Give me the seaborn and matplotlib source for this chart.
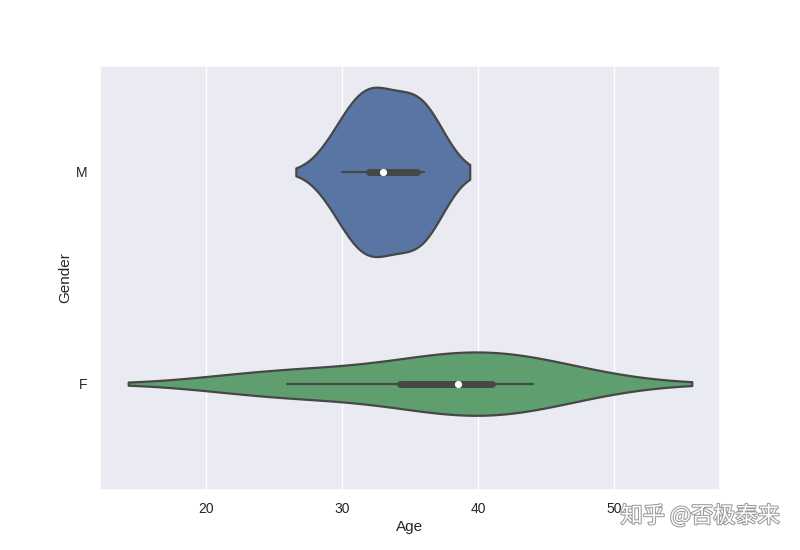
import pandas as pd
import matplotlib.pyplot as plt
import matplotlib.patheffects as pe
import seaborn as sns

# dados
male_ages = [30, 32, 32, 34, 36, 36]
female_ages = [26, 37, 40, 44]
genders = ["M", "F"]
cores = ["#4C72B0", "#55A868"]

df = pd.DataFrame({
    "Age": male_ages + female_ages,
    "Gender": ["M"] * len(male_ages) + ["F"] * len(female_ages),
})

sns.set_theme(style="darkgrid", rc={
    "xtick.labelsize": 10,
    "ytick.labelsize": 10,
    "axes.labelsize": 11,
    "xtick.major.pad": 3,
    "ytick.major.pad": 3,
    "axes.labelpad": 3,
    "text.color": "#262626",
    "axes.labelcolor": "#262626",
})
plt.rcParams["font.family"] = ["Liberation Sans", "DejaVu Sans"]

fig, ax = plt.subplots(figsize=(8, 5.5), dpi=100)
sns.violinplot(data=df, x="Age", y="Gender", order=genders, hue="Gender",
               hue_order=genders, palette=cores, legend=False, ax=ax,
               common_norm=True, linecolor="#474747", linewidth=1.6,
               inner_kws=dict(box_width=5, whis_width=1.6, marker="o"))

# marca d'água
fig.text(0.975, 0.062, "知乎 @否极泰来", ha="right", va="center", fontsize=16,
         color="white", family=["Noto Sans CJK SC", "DejaVu Sans"],
         path_effects=[pe.withStroke(linewidth=1.5, foreground="#9a9a9a")])

plt.savefig("out.png")
